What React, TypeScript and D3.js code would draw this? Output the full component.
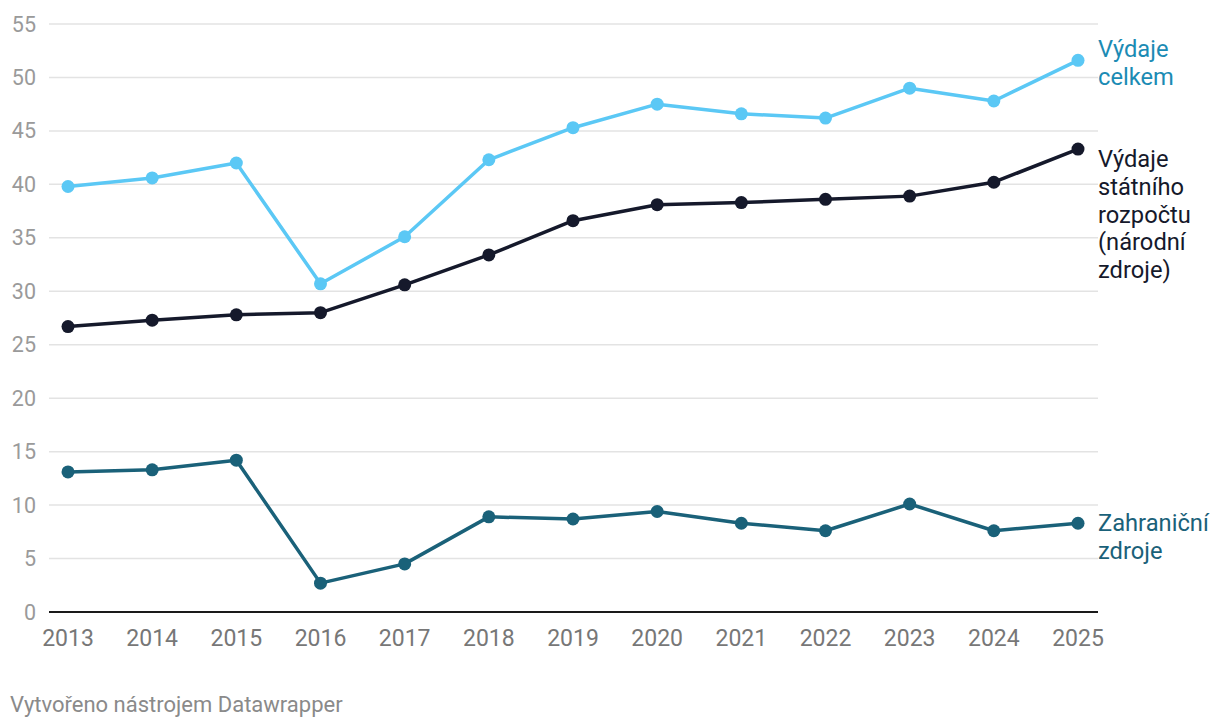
import React from "react";
import * as d3 from "d3";

const years = [2013, 2014, 2015, 2016, 2017, 2018, 2019, 2020, 2021, 2022, 2023, 2024, 2025];
const celkem = [39.8, 40.6, 42.0, 30.7, 35.1, 42.3, 45.3, 47.5, 46.6, 46.2, 49.0, 47.8, 51.6];
const statni = [26.7, 27.3, 27.8, 28.0, 30.6, 33.4, 36.6, 38.1, 38.3, 38.6, 38.9, 40.2, 43.3];
const zahranicni = [13.1, 13.3, 14.2, 2.7, 4.5, 8.9, 8.7, 9.4, 8.3, 7.6, 10.1, 7.6, 8.3];
const yTicks = [0, 5, 10, 15, 20, 25, 30, 35, 40, 45, 50, 55];

const seriesList = [
  { name: "celkem", values: celkem, color: "#5bc8f5", labelColor: "#1b8bb4", label: ["Výdaje", "celkem"], off: -3.5 },
  { name: "statni", values: statni, color: "#15192b", labelColor: "#15192b", label: ["Výdaje", "státního", "rozpočtu", "(národní", "zdroje)"], off: 18 },
  { name: "zahranicni", values: zahranicni, color: "#1a6179", labelColor: "#1a6179", label: ["Zahraniční", "zdroje"], off: 8 },
];

export default function App() {
  const W = 1220, H = 728;
  const x0 = 49, x1 = 1098;
  const x = d3.scaleLinear().domain([2013, 2025]).range([68, 1078]);
  const y = d3.scaleLinear().domain([0, 55]).range([612, 24]);
  const line = d3.line<number>().x((_, i) => x(years[i])).y((d) => y(d));
  const font = "Roboto, sans-serif";
  return (
    <svg width={W} height={H} style={{ position: "absolute", left: 0, top: 0 }} fontFamily={font}>
      <rect width={W} height={H} fill="#fff" />
      {yTicks.map((t) => (
        <g key={t}>
          {t !== 0 && <line x1={x0} x2={x1} y1={y(t)} y2={y(t)} stroke="#e3e3e3" strokeWidth={1.5} />}
          <text x={36} y={y(t)} dy="0.35em" textAnchor="end" fontSize={21.5} fill="#9a9a9a">{t}</text>
        </g>
      ))}
      <line x1={x0} x2={x1} y1={y(0)} y2={y(0)} stroke="#1a1a1a" strokeWidth={2} />
      {years.map((yr) => (
        <text key={yr} x={x(yr)} y={646} textAnchor="middle" fontSize={23} fill="#777777">{yr}</text>
      ))}
      {seriesList.map((s) => (
        <g key={s.name}>
          <path d={line(s.values) || ""} fill="none" stroke={s.color} strokeWidth={3.5} strokeLinejoin="round" />
          {s.values.map((v, i) => (
            <circle key={i} cx={x(years[i])} cy={y(v)} r={6.5} fill={s.color} />
          ))}
        </g>
      ))}
      {seriesList.map((s) => {
        const last = s.values[s.values.length - 1];
        return (
          <text key={s.name + "l"} x={1098} y={y(last) + s.off} fontSize={23.7} fill={s.labelColor}>
            {s.label.map((l, i) => (
              <tspan key={i} x={1098} dy={i === 0 ? 0 : 27.8}>{l}</tspan>
            ))}
          </text>
        );
      })}
      <text x={10} y={712} fontSize={22} fill="#8a8a8a">Vytvořeno nástrojem Datawrapper</text>
    </svg>
  );
}
